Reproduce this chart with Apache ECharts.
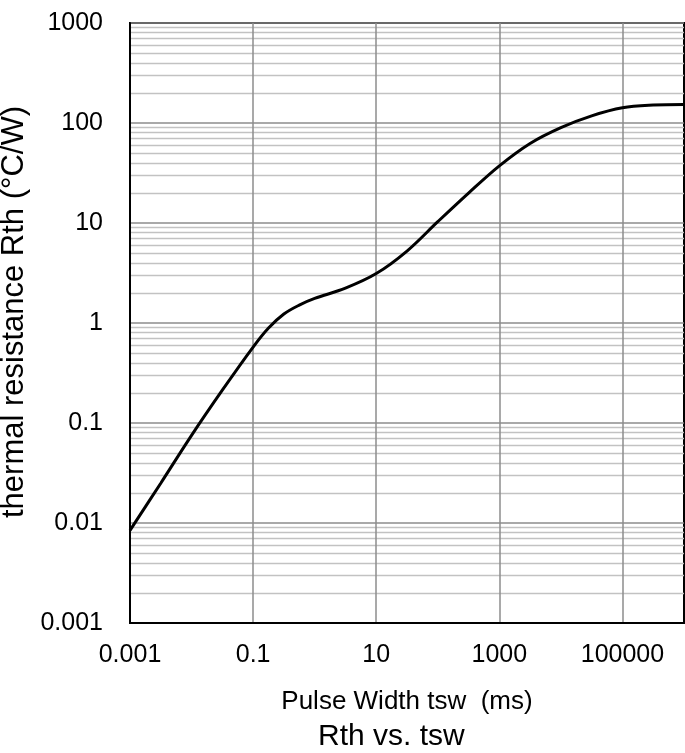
<!DOCTYPE html>
<html>
<head>
<meta charset="utf-8">
<script src="https://cdn.jsdelivr.net/npm/echarts@6/dist/echarts.min.js"></script>
<style>
  html, body { margin: 0; padding: 0; background: #fff; }
  #chart { width: 685px; height: 753px; }
</style>
</head>
<body>
<div id="chart"></div>
<script>
// Rth vs. tsw (log-log)
const pulseWidth = [0.001, 0.00316, 0.01, 0.0316, 0.1, 0.178, 0.316, 0.562, 1, 3.16, 10,
  31.6, 100, 316, 1000, 3160, 10000, 31600, 100000, 316000, 1000000];
const thermalRes = [0.00845, 0.025, 0.0753, 0.213, 0.575, 0.891, 1.23, 1.51, 1.76, 2.23, 3.12,
  5.24, 10.3, 19.9, 37.3, 62.5, 90, 118, 142, 151, 153];

const xTickLabels = ["0.001", "0.1", "10", "1000", "100000"];
const yTickLabels = ["0.001", "0.01", "0.1", "1", "10", "100", "1000"];

const font = "Liberation Sans, Arial, sans-serif";

function fmt(v) {
  const e = Math.round(Math.log10(v));
  return e < 0 ? v.toFixed(-e) : String(Math.round(v));
}

const chart = echarts.init(document.getElementById("chart"));

chart.setOption({
  animation: false,
  backgroundColor: "#fff",
  title: {
    text: "Rth vs. tsw",
    left: 318,
    top: 722,
    padding: 0,
    textStyle: { fontSize: 30, fontWeight: "normal", color: "#000", fontFamily: font },
  },
  grid: {
    left: 130,
    right: 1,
    top: 23,
    bottom: 130,
    containLabel: false,
    outerBoundsMode: "none",
    show: true,
    borderColor: "#000",
    borderWidth: 2,
  },
  xAxis: {
    type: "log",
    logBase: 10,
    min: 0.001,
    max: 1000000,
    splitNumber: 10,
    name: "Pulse Width tsw  (ms)",
    nameLocation: "middle",
    nameGap: 66,
    nameTextStyle: { fontSize: 26, color: "#000", fontFamily: font },
    axisLine: { show: true, onZero: false, lineStyle: { color: "#000", width: 2 } },
    axisTick: { show: false },
    axisLabel: {
      fontSize: 25,
      color: "#000",
      fontFamily: font,
      margin: 20,
      formatter: (v) => (xTickLabels.includes(fmt(v)) ? fmt(v) : ""),
    },
    // only every second decade gets a vertical line
    splitLine: {
      show: true,
      lineStyle: { color: ["#8c8c8c", "rgba(0,0,0,0)"], width: 1.5 },
    },
  },
  yAxis: {
    type: "log",
    logBase: 10,
    min: 0.001,
    max: 1000,
    splitNumber: 6,
    name: "thermal resistance Rth (°C/W)",
    nameLocation: "middle",
    nameRotate: 90,
    nameGap: 95,
    nameTextStyle: { fontSize: 31, color: "#000", fontFamily: font, padding: [0, 0, 0, 22] },
    axisLine: { show: true, onZero: false, lineStyle: { color: "#000", width: 2 } },
    axisTick: { show: false },
    axisLabel: {
      fontSize: 25,
      color: "#000",
      fontFamily: font,
      margin: 27,
      formatter: (v) => (yTickLabels.includes(fmt(v)) ? fmt(v) : ""),
    },
    splitLine: { show: true, lineStyle: { color: "#8c8c8c", width: 1.5 } },
    minorTick: { show: false, splitNumber: 9 },
    minorSplitLine: { show: true, lineStyle: { color: "#c2c2c2", width: 1.3 } },
  },
  series: [
    {
      type: "line",
      data: pulseWidth.map((t, i) => [t, thermalRes[i]]),
      smooth: 0.35,
      showSymbol: false,
      lineStyle: { color: "#000", width: 3 },
    },
  ],
});
</script>
</body>
</html>
